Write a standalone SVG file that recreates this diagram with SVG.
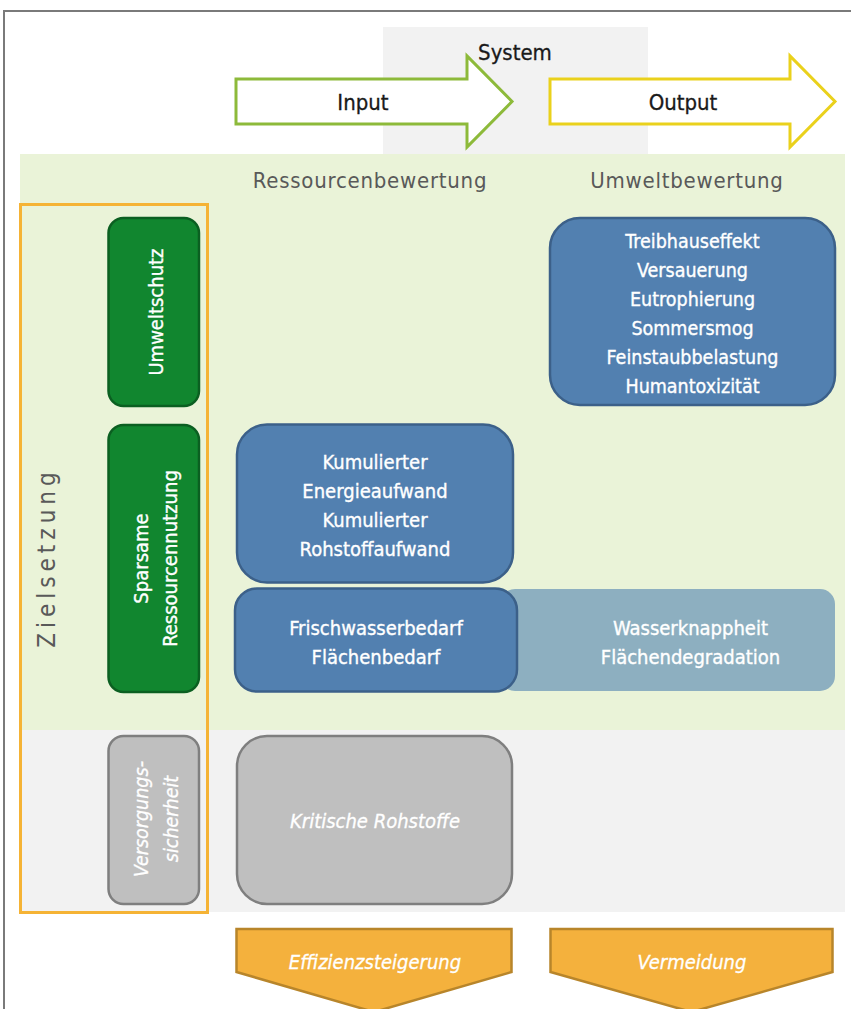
<svg xmlns="http://www.w3.org/2000/svg" width="851" height="1009" viewBox="0 0 851 1009">
<style>
.t{font-family:"DejaVu Sans Condensed","DejaVu Sans",sans-serif;font-stretch:condensed;text-anchor:middle}
.w{fill:#ffffff;stroke:#ffffff;stroke-width:0.35px;font-size:20px}
.head{fill:#595959;font-size:22px;letter-spacing:0.75px}
.arrowlbl{fill:#1a1a1a;stroke:#1a1a1a;stroke-width:0.3px;font-size:22px}
.it{font-style:italic;fill:#ffffff;stroke:#ffffff;stroke-width:0.3px;font-size:20px}
.green{fill:#11862f;stroke:#0b5f21;stroke-width:2.5}
.blue{fill:#5280b0;stroke:#3c6089;stroke-width:2.5}
.grey{fill:#bfbfbf;stroke:#7f7f7f;stroke-width:2.5}
.orange{fill:#f4b13d;stroke:#b8852a;stroke-width:2.5}
</style>
<rect x="0" y="0" width="851" height="1009" fill="#ffffff"/>
<path d="M4 1009 V11 H851" fill="none" stroke="#7a7a7a" stroke-width="2"/>
<rect x="383" y="27" width="265" height="128" fill="#f2f2f2"/>
<rect x="20" y="154" width="825" height="576" fill="#eaf3d8"/>
<rect x="20" y="730" width="825" height="182" fill="#f2f2f2"/>
<text class="t arrowlbl" x="515" y="60">System</text>

<g id="input">
<path d="M236 79 H467 V56 L512 101.5 L467 147 V124 H236 Z" fill="#ffffff" stroke="#8dba3a" stroke-width="3"/>
<text class="t arrowlbl" x="363" y="110">Input</text>
</g>
<g id="output">
<path d="M550 79 H790 V56 L835 101.5 L790 147 V124 H550 Z" fill="#ffffff" stroke="#ead11c" stroke-width="3"/>
<text class="t arrowlbl" x="683" y="110">Output</text>
</g>

<text class="t head" x="370" y="188">Ressourcenbewertung</text>
<text class="t head" x="687" y="188">Umweltbewertung</text>

<g id="zielsetzung">
<rect x="20.5" y="204.5" width="187" height="708" fill="none" stroke="#f5b335" stroke-width="3"/>
<text class="t" transform="translate(55 560) rotate(-90)" x="2.5" y="0" style="fill:#595959;font-size:24px;letter-spacing:5px">Zielsetzung</text>
</g>

<g id="umweltschutz">
<rect class="green" x="108.5" y="218" width="90.5" height="188" rx="15"/>
<text class="t w" transform="translate(153.5 312) rotate(-90)" y="9">Umweltschutz</text>
</g>

<g id="sparsame">
<rect class="green" x="108.5" y="425" width="90.5" height="267" rx="15"/>
<text class="t w" transform="translate(153.5 558.5) rotate(-90)"><tspan x="0" y="-6">Sparsame</tspan><tspan x="0" y="23">Ressourcennutzung</tspan></text>
</g>

<g id="versorgung">
<rect class="grey" x="108.5" y="736" width="90.5" height="168" rx="15"/>
<text class="t it" transform="translate(153.5 819) rotate(-90)" style="font-size:19.5px"><tspan x="0" y="-6">Versorgungs-</tspan><tspan x="0" y="24">sicherheit</tspan></text>
</g>

<g id="umweltwirkungen">
<rect class="blue" x="550" y="218" width="285" height="187" rx="30"/>
<text class="t w" style="font-size:19.5px"><tspan x="692.5" y="248">Treibhauseffekt</tspan><tspan x="692.5" y="277">Versauerung</tspan><tspan x="692.5" y="306">Eutrophierung</tspan><tspan x="692.5" y="335">Sommersmog</tspan><tspan x="692.5" y="364">Feinstaubbelastung</tspan><tspan x="692.5" y="393">Humantoxizität</tspan></text>
</g>

<g id="kumuliert">
<rect class="blue" x="237" y="424.5" width="276" height="158" rx="30"/>
<text class="t w"><tspan x="375" y="469">Kumulierter</tspan><tspan x="375" y="498">Energieaufwand</tspan><tspan x="375" y="527">Kumulierter</tspan><tspan x="375" y="556">Rohstoffaufwand</tspan></text>
</g>

<g id="wasserknappheit">
<rect x="500" y="589" width="335" height="102" rx="15" fill="#8dafc0"/>
<text class="t w"><tspan x="690.5" y="635">Wasserknappheit</tspan><tspan x="690.5" y="664">Flächendegradation</tspan></text>
</g>

<g id="frischwasser">
<rect class="blue" x="235" y="588.5" width="282" height="103" rx="22"/>
<text class="t w"><tspan x="376" y="635">Frischwasserbedarf</tspan><tspan x="376" y="664">Flächenbedarf</tspan></text>
</g>

<g id="kritisch">
<rect class="grey" x="237" y="736" width="275" height="168" rx="30"/>
<text class="t it" x="375" y="828">Kritische Rohstoffe</text>
</g>

<g id="effizienz">
<path class="orange" d="M236.5 929 H511.5 V972 L374 1012 L236.5 972 Z"/>
<text class="t it" x="375" y="969">Effizienzsteigerung</text>
</g>

<g id="vermeidung">
<path class="orange" d="M550.5 929 H832.5 V972 L691.5 1012 L550.5 972 Z"/>
<text class="t it" x="692" y="969">Vermeidung</text>
</g>

<g id="connectors"></g>
</svg>
